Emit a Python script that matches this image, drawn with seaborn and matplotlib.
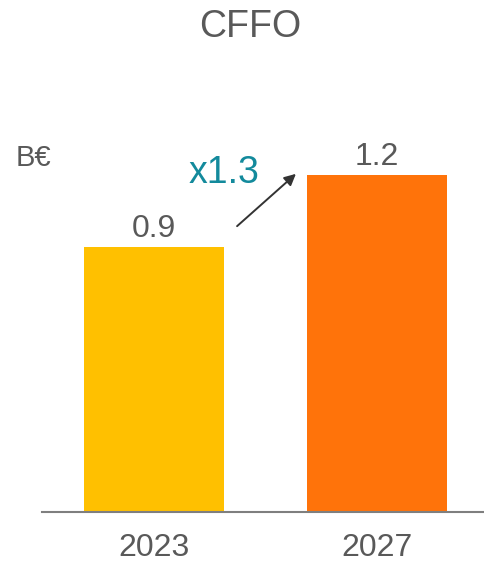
import pandas as pd
import seaborn as sns
import matplotlib.pyplot as plt

# Data
years = ['2023', '2027']
cffo = [0.9, 1.145]
value_labels = ['0.9', '1.2']
bar_colors = ['#FFC000', '#FF730A']

df = pd.DataFrame({'Year': years, 'CFFO': cffo})

plt.rcParams['font.family'] = ['Liberation Sans', 'DejaVu Sans']
grey = '#595959'

fig = plt.figure(figsize=(4.85, 5.64), dpi=100)
ax = fig.add_axes([42 / 485, 1 - 512 / 564, 443 / 485, 412 / 564])

sns.barplot(data=df, x='Year', y='CFFO', hue='Year', palette=bar_colors,
            width=0.628, legend=False, saturation=1, ax=ax)

ax.set_xlim(-0.502, 1.484)
ax.set_ylim(0, 1.4)

# value labels above bars
for i, (v, lab) in enumerate(zip(cffo, value_labels)):
    ax.annotate(lab, (i, v), xytext=(0, 2.5), textcoords='offset points',
                ha='center', va='bottom', fontsize=23, color=grey)

# growth annotation
ax.annotate('', xy=(298, 564 - 172), xycoords='figure pixels',
            xytext=(235, 564 - 228), textcoords='figure pixels',
            arrowprops=dict(arrowstyle='-|>', color='#333333', lw=1.4,
                            mutation_scale=17))
fig.text(224 / 485, 1 - 173 / 564, 'x1.3', ha='center', va='center',
         fontsize=27, color='#138A9C')

fig.text(250 / 485, 1 - 27 / 564, 'CFFO', ha='center', va='center',
         fontsize=27, color=grey)
fig.text(16 / 485, 1 - 158 / 564, 'B€', ha='left', va='center',
         fontsize=21, color=grey)

for s in ['top', 'right', 'left']:
    ax.spines[s].set_visible(False)
ax.spines['bottom'].set_color('#7f7f7f')
ax.spines['bottom'].set_linewidth(1.5)
ax.set_yticks([])
ax.set_xlabel('')
ax.set_ylabel('')
ax.tick_params(axis='x', length=0, pad=15, labelsize=23, labelcolor=grey)

fig.savefig('out.png', dpi=100)
